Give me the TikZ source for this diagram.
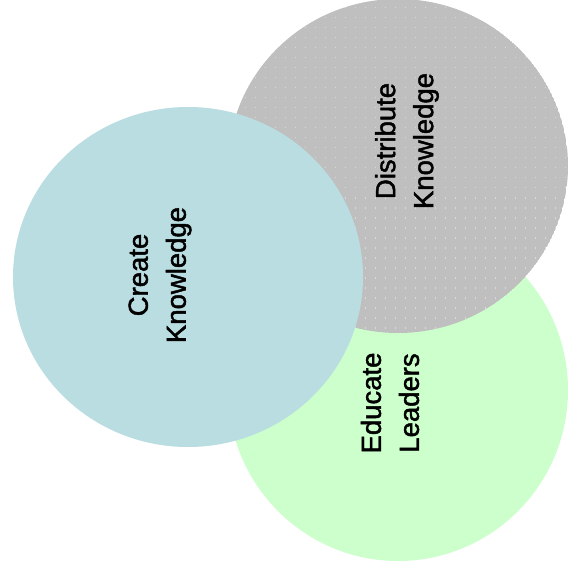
\documentclass[tikz,border=0pt]{standalone}
\usepackage{fontspec}
\setmainfont{Liberation Sans}
\newfontfamily\lblfont[FakeBold=1.6]{Liberation Sans}
\definecolor{cblue}{HTML}{B9DDE1}
\definecolor{cgray}{HTML}{BFBFBF}
\definecolor{cgreen}{HTML}{CCFFCC}
\definecolor{cdot}{HTML}{DADADA}
\begin{document}
\begin{tikzpicture}[x=1pt,y=-1pt,
  lbl/.style={rotate=90,align=center,inner sep=0pt,font=\lblfont\fontsize{27.5}{38}\selectfont}]
\useasboundingbox (0,0) rectangle (568,577);
\fill[cgreen] (398,390) ellipse [x radius=170,y radius=171];
\begin{scope}
  \clip (398,166) ellipse [x radius=170,y radius=167];
  \fill[cgray] (398,166) ellipse [x radius=170,y radius=167];
  \foreach \i in {0,...,34} {
    \foreach \j in {0,...,33} {
      \fill[cdot] ({225+10*\i},{-3+10*\j}) rectangle ++(1,1.5);
    }
  }
\end{scope}
\fill[cblue] (188,277) ellipse [x radius=175,y radius=170];
\node[lbl] (create) at (160,275) {Create\\Knowledge};
\node[lbl] (distribute) at (407,141) {Distribute\\Knowledge};
\node[lbl] (educate) at (390,403) {Educate\\Leaders};
\end{tikzpicture}
\end{document}
